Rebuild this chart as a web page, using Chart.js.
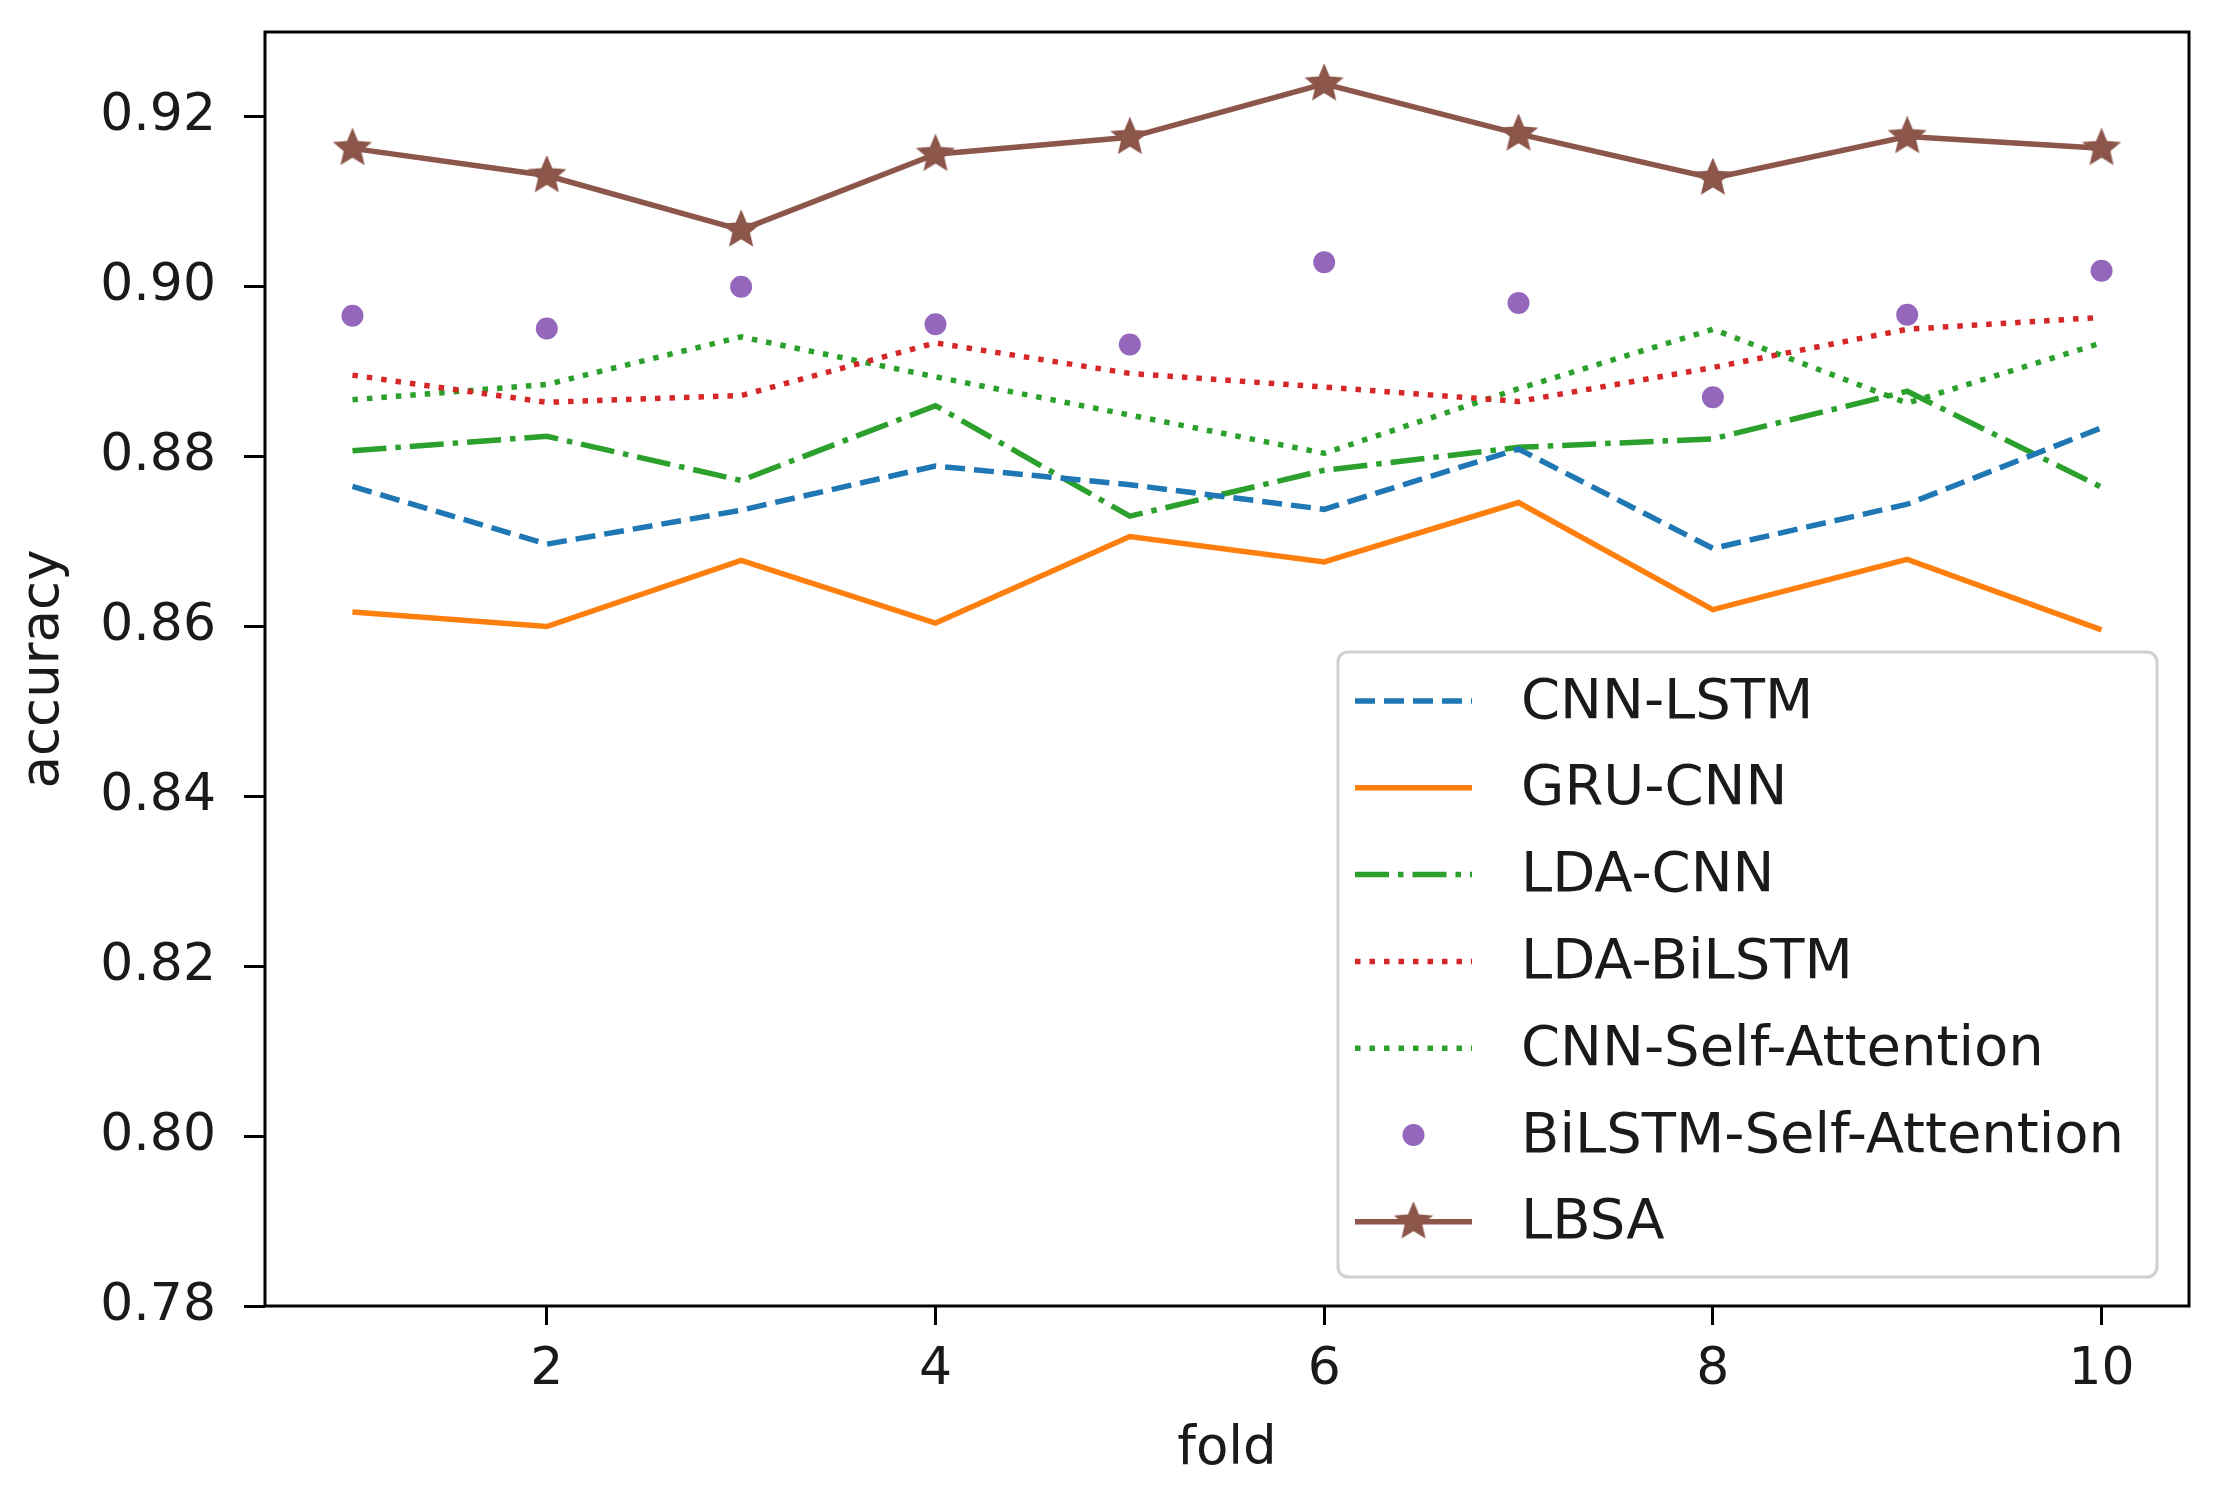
<!DOCTYPE html>
<html>
<head>
<meta charset="utf-8">
<script src="https://cdn.jsdelivr.net/npm/chart.js@4.4.1/dist/chart.umd.min.js"></script>
<style>
  html, body { margin: 0; padding: 0; background: #ffffff; }
  #wrap { width: 2216px; height: 1504px; position: relative; }
</style>
</head>
<body>
<div id="wrap"><canvas id="c" width="2216" height="1504"></canvas></div>
<script>
// ---- data ----
const folds = [1, 2, 3, 4, 5, 6, 7, 8, 9, 10];
const cnnLstm   = [0.8765, 0.8697, 0.8737, 0.8789, 0.8767, 0.8738, 0.8809, 0.8692, 0.8744, 0.8834];
const gruCnn    = [0.8617, 0.8600, 0.8678, 0.8604, 0.8706, 0.8676, 0.8746, 0.8620, 0.8679, 0.8596];
const ldaCnn    = [0.8807, 0.8824, 0.8772, 0.8860, 0.8730, 0.8784, 0.8811, 0.8821, 0.8877, 0.8764];
const ldaBiLstm = [0.8896, 0.8864, 0.8872, 0.8934, 0.8898, 0.8882, 0.8865, 0.8905, 0.8950, 0.8964];
const cnnSA     = [0.8867, 0.8885, 0.8941, 0.8894, 0.8849, 0.8804, 0.8880, 0.8950, 0.8863, 0.8934];
const biLstmSA  = [0.8966, 0.8951, 0.9000, 0.8956, 0.8932, 0.9029, 0.8981, 0.8870, 0.8967, 0.9019];
const lbsa      = [0.9163, 0.9131, 0.9067, 0.9156, 0.9176, 0.9239, 0.9180, 0.9128, 0.9177, 0.9163];
const xTicks = [2, 4, 6, 8, 10];
const yTicks = [0.78, 0.80, 0.82, 0.84, 0.86, 0.88, 0.90, 0.92];

const FONT = '"DejaVu Sans", sans-serif';
const LW = 5.5;

// star marker
function makeStar(r, color) {
  const c = document.createElement('canvas');
  const s = Math.ceil(r * 2 + 4);
  c.width = s; c.height = s;
  const g = c.getContext('2d');
  const cx = s / 2, cy = s / 2, inner = r * 0.45;
  g.beginPath();
  for (let i = 0; i < 10; i++) {
    const rad = i % 2 === 0 ? r : inner;
    const a = -Math.PI / 2 + i * Math.PI / 5;
    const px = cx + rad * Math.cos(a), py = cy + rad * Math.sin(a);
    if (i === 0) g.moveTo(px, py); else g.lineTo(px, py);
  }
  g.closePath();
  g.fillStyle = color; g.fill();
  g.lineWidth = 2; g.strokeStyle = color; g.stroke();
  return c;
}
const starImg = makeStar(18, '#8c564b');

const pts = arr => folds.map((f, i) => ({ x: f, y: arr[i] }));

const datasets = [
  { label: 'CNN-LSTM', data: pts(cnnLstm), borderColor: '#1f77b4', borderDash: [20, 9], borderWidth: LW, pointRadius: 0, fill: false },
  { label: 'GRU-CNN', data: pts(gruCnn), borderColor: '#ff7f0e', borderDash: [], borderWidth: LW, pointRadius: 0, fill: false },
  { label: 'LDA-CNN', data: pts(ldaCnn), borderColor: '#2ca02c', borderDash: [34, 9, 5.5, 9], borderWidth: LW, pointRadius: 0, fill: false },
  { label: 'LDA-BiLSTM', data: pts(ldaBiLstm), borderColor: '#d62728', borderDash: [5.5, 9], borderWidth: LW, pointRadius: 0, fill: false },
  { label: 'CNN-Self-Attention', data: pts(cnnSA), borderColor: '#2ca02c', borderDash: [5.5, 9], borderWidth: LW, pointRadius: 0, fill: false },
  { label: 'BiLSTM-Self-Attention', data: pts(biLstmSA), borderColor: '#9467bd', backgroundColor: '#9467bd', showLine: false, pointRadius: 11, pointBorderWidth: 0, pointStyle: 'circle' },
  { label: 'LBSA', data: pts(lbsa), borderColor: '#8c564b', backgroundColor: '#8c564b', borderWidth: LW, pointStyle: starImg, pointRadius: 18, fill: false }
];

const framePlugin = {
  id: 'frame',
  afterDraw(chart) {
    const ctx = chart.ctx, a = chart.chartArea;
    ctx.save();
    ctx.strokeStyle = '#000'; ctx.lineWidth = 3;
    ctx.strokeRect(a.left, a.top, a.right - a.left, a.bottom - a.top);

    // legend
    const bw = 819, bh = 625;
    const bx = a.right - 32 - bw, by = a.bottom - 29 - bh;
    const rr = 10;
    ctx.beginPath();
    ctx.moveTo(bx + rr, by);
    ctx.arcTo(bx + bw, by, bx + bw, by + bh, rr);
    ctx.arcTo(bx + bw, by + bh, bx, by + bh, rr);
    ctx.arcTo(bx, by + bh, bx, by, rr);
    ctx.arcTo(bx, by, bx + bw, by, rr);
    ctx.closePath();
    ctx.fillStyle = 'rgba(255,255,255,0.8)'; ctx.fill();
    ctx.strokeStyle = '#d0d0d0'; ctx.lineWidth = 3; ctx.stroke();

    chart.data.datasets.forEach((ds, i) => {
      const y = by + 49 + i * 86.8;
      const x0 = bx + 17, x1 = bx + 134;
      if (ds.showLine !== false) {
        ctx.beginPath();
        ctx.setLineDash(ds.borderDash || []);
        ctx.strokeStyle = ds.borderColor; ctx.lineWidth = LW;
        ctx.moveTo(x0, y); ctx.lineTo(x1, y); ctx.stroke();
        ctx.setLineDash([]);
      }
      if (ds.pointStyle === starImg) {
        ctx.drawImage(starImg, (x0 + x1) / 2 - starImg.width / 2, y - starImg.height / 2);
      } else if (ds.showLine === false) {
        ctx.beginPath();
        ctx.fillStyle = ds.backgroundColor;
        ctx.arc((x0 + x1) / 2, y, ds.pointRadius, 0, Math.PI * 2);
        ctx.fill();
      }
      ctx.fillStyle = '#1a1a1a';
      ctx.font = '56px ' + FONT;
      ctx.textBaseline = 'middle';
      ctx.textAlign = 'left';
      ctx.fillText(ds.label, bx + 183, y + 2);
    });
    ctx.restore();
  }
};

new Chart(document.getElementById('c'), {
  type: 'line',
  data: { datasets },
  plugins: [framePlugin],
  options: {
    responsive: false,
    animation: false,
    devicePixelRatio: 1,
    layout: { padding: { top: 32, right: 27, left: 0, bottom: 0 } },
    plugins: { legend: { display: false }, tooltip: { enabled: false } },
    elements: { line: { tension: 0 } },
    scales: {
      x: {
        type: 'linear', min: 0.55, max: 10.45,
        afterBuildTicks: s => { s.ticks = xTicks.map(v => ({ value: v })); },
        afterFit: s => { s.height = 198; s.paddingLeft = 0; s.paddingRight = 0; },
        ticks: { font: { family: FONT, size: 52 }, color: '#1a1a1a', padding: 14, maxRotation: 0, callback: v => String(v) },
        grid: { drawOnChartArea: false, drawTicks: true, tickLength: 19, color: '#000', lineWidth: 3 },
        border: { display: false },
        title: { display: true, text: 'fold', font: { family: FONT, size: 53 }, color: '#1a1a1a', padding: { top: 0, bottom: 22 } }
      },
      y: {
        type: 'linear', min: 0.78, max: 0.93,
        afterBuildTicks: s => { s.ticks = yTicks.map(v => ({ value: v })); },
        afterFit: s => { s.width = 265; s.paddingTop = 0; s.paddingBottom = 0; },
        ticks: { font: { family: FONT, size: 52 }, color: '#1a1a1a', padding: 28, callback: v => Number(v).toFixed(2) },
        grid: { drawOnChartArea: false, drawTicks: true, tickLength: 21, color: '#000', lineWidth: 3 },
        border: { display: false },
        title: { display: true, text: 'accuracy', font: { family: FONT, size: 53 }, color: '#1a1a1a', padding: { top: 12, bottom: 0 } }
      }
    }
  }
});
</script>
</body>
</html>
